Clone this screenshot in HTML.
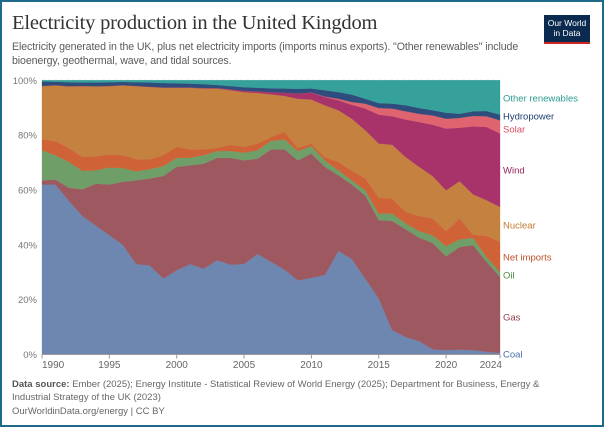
<!DOCTYPE html>
<html><head><meta charset="utf-8">
<style>
html,body{margin:0;padding:0;background:#fff;}
#frame{position:relative;width:600px;height:423px;border:2px solid #1d6a89;overflow:hidden;font-family:"Liberation Sans",sans-serif;}
.t{position:absolute;white-space:nowrap;}
</style></head>
<body>
<div id="frame">
<div class="t" style="left:10px;top:10px;font-family:'Liberation Serif',serif;font-size:20.5px;color:#333;letter-spacing:-0.2px;">Electricity production in the United Kingdom</div>
<div class="t" style="left:10px;top:39px;font-size:10.6px;line-height:13.5px;color:#5b5b5b;white-space:normal;width:540px;letter-spacing:-0.1px;">Electricity generated in the UK, plus net electricity imports (imports minus exports). "Other renewables" include bioenergy, geothermal, wave, and tidal sources.</div>
<div style="position:absolute;left:542px;top:13px;width:46px;height:29px;background:#0b2a4f;border-bottom:2px solid #ce261e;color:#fff;font-size:8.5px;line-height:10px;text-align:center;padding-top:3px;box-sizing:border-box;">Our World<br>in Data</div>
<svg id="chart" width="600" height="380" style="position:absolute;left:0;top:0;"></svg>
<div class="t" style="left:10px;top:377px;font-size:9.5px;line-height:12.5px;color:#666;white-space:normal;width:560px;"><b style="color:#555">Data source:</b> Ember (2025); Energy Institute - Statistical Review of World Energy (2025); Department for Business, Energy &amp; Industrial Strategy of the UK (2023)</div>
<div class="t" style="left:10px;top:404px;font-size:9.5px;color:#666;">OurWorldinData.org/energy | CC BY</div>
</div>
<script>
const years = [1990,1991,1992,1993,1994,1995,1996,1997,1998,1999,2000,2001,2002,2003,2004,2005,2006,2007,2008,2009,2010,2011,2012,2013,2014,2015,2016,2017,2018,2019,2020,2021,2022,2023,2024];
// cumulative stacked tops (%), bottom to top
const coalTop = [62,62,56,50.5,47,43.5,40,33,32.5,27.7,30.7,33,31.3,34.4,32.8,33,36.7,33.8,31,27,28,29,37.8,34.8,27.7,20.4,8.9,6.4,4.9,1.9,1.6,1.8,1.6,1,0.6];
const gasTop = [63.5,63.8,60.8,60.3,62.3,62,63,63.5,64.2,65.1,68.4,69,69.6,71.7,71.7,70.8,71.4,74.8,74.8,70.8,73.3,68.4,65.4,62,58,49,48.7,45.7,42.6,40.7,35.8,39.2,39.9,33.8,28.3];
const oilTop = [74.5,72.7,70.2,67,67.2,68.2,68,66.8,67.6,68.7,71.7,71.8,72.7,74.2,74.2,73.6,74.5,77.9,78.4,74.2,76,70.8,67.2,63.5,59.9,51.4,51.4,47.8,45,43.5,39.5,42,42.5,35.6,30.1];
const importsTop = [78.4,77.8,75.3,72,72.3,72.9,72.7,71.2,71.2,72.7,75.7,74.8,74.8,75.3,76.5,75.7,76.9,79.3,81.2,75.3,76.9,72,70.2,67,64.2,57.1,56.9,52,50.5,49.6,45,49.6,43.7,43.3,41.1];
const nuclearTop = [97.9,98.2,97.8,97.9,97.8,97.9,98.2,97.9,97.6,97.3,97.3,97.3,97,97,96.4,95.7,95.4,94.9,94.3,93.3,93,90.9,89.1,86,81.8,76.9,76.5,72,68.4,65.1,59.9,63.2,58.4,56.3,53.8];
const windTop = [97.95,98.25,97.85,97.95,97.85,97.95,98.25,97.95,97.65,97.4,97.4,97.4,97.2,97.2,96.7,96.2,96,95.7,95.5,95.2,95.5,93.9,92.7,91.1,89.7,87.5,86.9,85.7,84.8,83.8,82.4,82.7,83.2,83,80.6];
const solarTop = [97.95,98.25,97.85,97.95,97.85,97.95,98.25,97.95,97.65,97.4,97.4,97.4,97.2,97.2,96.7,96.2,96,95.7,95.5,95.2,95.6,94.1,93.3,92.1,91.5,89.9,89.7,88.7,87.8,87.2,86,86.3,87,86.9,85.4];
const hydroTop = [99.6,99.5,99.3,99.2,99.2,99.3,99.4,99.3,99.2,99,98.9,98.8,98.6,98.3,97.9,97.5,97.3,97.1,97,96.9,97,96.4,95.7,94.8,93.3,91.7,91.5,90.9,89.9,89.1,88.2,87.8,88.7,88.8,87.5];
const otherTop = years.map(()=>100);
const seriesNames = ["Coal","Gas","Oil","Net imports","Nuclear","Wind","Solar","Hydropower","Other renewables"];
const seriesTops = [coalTop,gasTop,oilTop,importsTop,nuclearTop,windTop,solarTop,hydroTop,otherTop];
const fillColors = ["#6e87b0","#9e5860","#6f9e68","#cf6236","#c4813f","#a8336b","#e0646f","#2e4c7c","#36a09a"];
const labelColors = ["#4c6ea8","#8f3e4b","#4f8a44","#c0502a","#c07a30","#94235a","#d64d60","#1f3d6e","#2b9a92"];
const labelY = [352,315,273,255,223,168,127,114,96];
const yTicks = [0,20,40,60,80,100];
const xTicks = [1990,1995,2000,2005,2010,2015,2020,2024];

const X0=40, X1=498, Y0=352.5, Y1=78.3;
const xs = y => X0 + (y-years[0])/(years[years.length-1]-years[0])*(X1-X0);
const ys = v => Y0 - v/100*(Y0-Y1);
const svg = document.getElementById('chart');
const NS='http://www.w3.org/2000/svg';
function mk(tag, attrs){const e=document.createElementNS(NS,tag);for(const k in attrs)e.setAttribute(k,attrs[k]);svg.appendChild(e);return e;}

yTicks.forEach(v=>{
  const l=mk('line',{x1:X0,x2:X1,y1:ys(v),y2:ys(v),stroke:'#ddd','stroke-dasharray':'3,3'});
  
  
  const t=mk('text',{x:35,y:ys(v)+3.5,'text-anchor':'end','font-size':'9.5','fill':'#777','font-family':'Liberation Sans, sans-serif'});
  t.textContent=v+'%';
  
  
});

seriesTops.forEach((top,i)=>{
  const bottom = i===0 ? years.map(()=>0) : seriesTops[i-1];
  let d='';
  years.forEach((yr,j)=>{d+=(j?'L':'M')+xs(yr).toFixed(1)+','+ys(top[j]).toFixed(1);});
  for(let j=years.length-1;j>=0;j--){d+='L'+xs(years[j]).toFixed(1)+','+ys(bottom[j]).toFixed(1);}
  d+='Z';
  const p=mk('path',{d:d,fill:fillColors[i],stroke:fillColors[i],'stroke-width':'0.3'});
  
  
  const t=mk('text',{x:501,y:labelY[i]+3.5,'font-size':'9.5','fill':labelColors[i],'font-family':'Liberation Sans, sans-serif'});
  t.textContent=seriesNames[i];
  
  
});

const ax=mk('line',{x1:X0,x2:X1,y1:Y0,y2:Y0,stroke:'#999','stroke-width':'1'});


xTicks.forEach((yr,i)=>{
  const tk=mk('line',{x1:xs(yr),x2:xs(yr),y1:Y0,y2:Y0+4,stroke:'#999'});
  
  
  let anchor='middle', x=xs(yr);
  if(i===0){anchor='start';}
  if(i===xTicks.length-1){anchor='end';x=xs(yr)+2;}
  const t=mk('text',{x:x,y:366,'text-anchor':anchor,'font-size':'10','fill':'#666','font-family':'Liberation Sans, sans-serif'});
  t.textContent=yr;
  
  
});
</script>
</body></html>
